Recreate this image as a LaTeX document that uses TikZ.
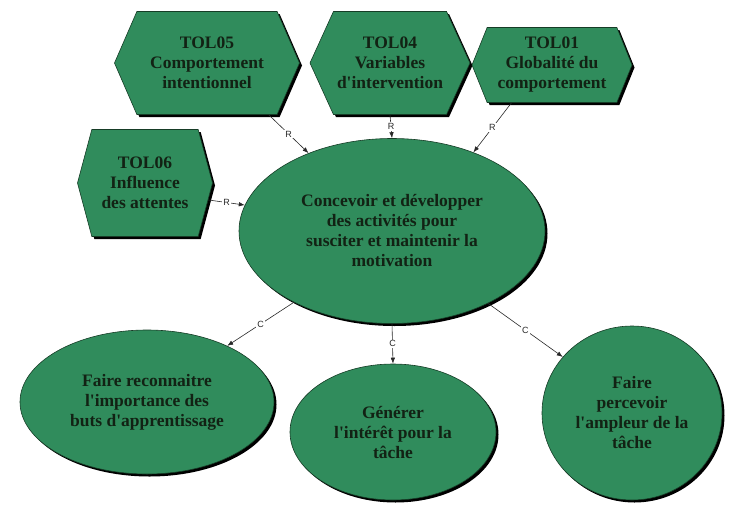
\documentclass[tikz,border=0pt]{standalone}
\usepackage{fontspec}
% no TeX mapping, so that ' stays a straight apostrophe
\setmainfont[Ligatures=TeXOff]{Liberation Serif}
\newfontfamily\lblfont{Liberation Sans}
\usetikzlibrary{shapes.geometric,shapes.symbols,shadows,arrows.meta}

\definecolor{leaf}{RGB}{48,140,92}
\definecolor{leafedge}{RGB}{22,60,38}
\definecolor{inkdark}{RGB}{18,34,20}
\definecolor{wire}{RGB}{40,40,40}

\tikzset{
  box/.style={fill=leaf, draw=leafedge, line width=0.6pt,
    general shadow={shadow xshift=2.5pt, shadow yshift=-2.5pt, fill=black},
    text=inkdark, align=center, inner sep=0pt,
    font=\bfseries\fontsize{17.5}{20}\selectfont},
  hexa/.style={box, signal, signal to=west and east},
  oval/.style={box, ellipse},
  conn/.style={draw=wire, line width=0.6pt, -{Latex[length=6pt,width=4.5pt]}},
  lbl/.style={fill=white, inner sep=1pt, text=wire,
    font=\lblfont\fontsize{9}{10}\selectfont}
}

\begin{document}
\begin{tikzpicture}[x=1pt,y=-1pt]
\useasboundingbox (0,0) rectangle (729,504);

% goal-like hexagons
\node[hexa, minimum width=185pt, minimum height=103pt, signal pointer angle=133]
  (t05) at (207,63) {TOL05\\Comportement\\intentionnel};
\node[hexa, minimum width=160pt, minimum height=103pt, signal pointer angle=131]
  (t04) at (390,63) {TOL04\\Variables\\d'intervention};
\node[hexa, minimum width=160pt, minimum height=75pt, signal pointer angle=136]
  (t01) at (552,65) {TOL01\\Globalité du\\comportement};
\node[hexa, minimum width=135pt, minimum height=107pt, signal pointer angle=150]
  (t06) at (145,183) {TOL06\\Influence\\des attentes};

% central activity
\node[oval, minimum width=306pt, minimum height=185pt]
  (c) at (392,231) {Concevoir et développer\\des activités pour\\susciter et maintenir la\\motivation};

% sub-activities
\node[oval, minimum width=254pt, minimum height=144pt]
  (bl) at (147,402) {Faire reconnaitre\\l'importance des\\buts d'apprentissage};
\node[oval, minimum width=206pt, minimum height=136pt]
  (bm) at (393,432) {Générer\\l'intérêt pour la\\tâche};
\node[oval, minimum width=180pt, minimum height=174pt]
  (br) at (632,413) {Faire\\percevoir\\l'ampleur de la\\tâche};

% R links
\draw[conn] (t05.-40) -- node[lbl]{R} (c.137.5);
\draw[conn] (t04.south) -- node[lbl]{R} (c.north);
\draw[conn] (t01.223) -- node[lbl]{R} (c.44);
\draw[conn] (t06.-15) -- node[lbl]{R} (c.170.5);

% C links
\draw[conn] (c.216) -- node[lbl]{C} (bl.35);
\draw[conn] (c.south) -- node[lbl]{C} (bm.north);
\draw[conn] (c.-37) -- node[lbl]{C} (br.141);
\end{tikzpicture}
\end{document}
